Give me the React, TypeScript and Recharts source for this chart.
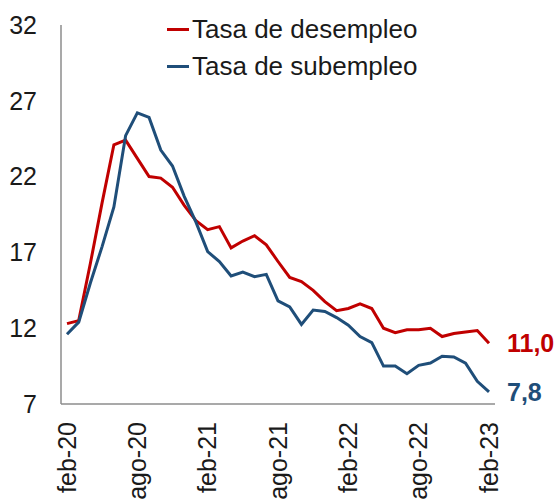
import { Line, LineChart, XAxis, YAxis } from 'recharts'

const months = [
  'feb-20', 'mar-20', 'abr-20', 'may-20', 'jun-20', 'jul-20', 'ago-20', 'sep-20', 'oct-20', 'nov-20', 'dic-20',
  'ene-21', 'feb-21', 'mar-21', 'abr-21', 'may-21', 'jun-21', 'jul-21', 'ago-21', 'sep-21', 'oct-21', 'nov-21', 'dic-21',
  'ene-22', 'feb-22', 'mar-22', 'abr-22', 'may-22', 'jun-22', 'jul-22', 'ago-22', 'sep-22', 'oct-22', 'nov-22', 'dic-22',
  'ene-23', 'feb-23',
]

const desempleo = [
  12.3, 12.5, 16.3, 20.3, 24.1, 24.4, 23.2, 22.0, 21.9, 21.3, 20.1, 19.1, 18.5, 18.7, 17.3, 17.75, 18.1, 17.5, 16.4,
  15.35, 15.07, 14.5, 13.75, 13.15, 13.3, 13.6, 13.3, 12.0, 11.7, 11.9, 11.9, 12.0, 11.45, 11.65, 11.75, 11.85, 11.0,
]

const subempleo = [
  11.6, 12.4, 15.0, 17.4, 20.0, 24.7, 26.2, 25.9, 23.75, 22.7, 20.7, 19.0, 17.05, 16.4, 15.45, 15.7, 15.4, 15.55, 13.8,
  13.4, 12.25, 13.2, 13.1, 12.7, 12.2, 11.45, 11.05, 9.5, 9.5, 9.0, 9.55, 9.7, 10.15, 10.1, 9.7, 8.5, 7.8,
]

const yTicks = [7, 12, 17, 22, 27, 32]

const RED = '#c00000'
const BLUE = '#1f4e79'
const FONT = '"Liberation Sans", Arial, sans-serif'

const data = months.map((m, i) => ({ mes: m, desempleo: desempleo[i], subempleo: subempleo[i] }))

const series = [
  { key: 'desempleo', name: 'Tasa de desempleo', color: RED },
  { key: 'subempleo', name: 'Tasa de subempleo', color: BLUE },
]

function MonthTick({ x, y, payload }: { x?: number; y?: number; payload?: { value: string } }) {
  const ty = (y ?? 0) + 16
  return (
    <text
      x={x}
      y={ty}
      transform={`rotate(-90, ${x}, ${ty})`}
      textAnchor="end"
      dy="0.35em"
      fill="#1a1a1a"
      fontSize={25}
      fontFamily={FONT}
    >
      {payload?.value}
    </text>
  )
}

// legend sits over the plot, top middle, like the excel original
function LegendBox() {
  return (
    <div
      style={{
        position: 'absolute',
        top: 11,
        left: 167,
        fontFamily: FONT,
        fontSize: 26,
        color: '#1a1a1a',
        lineHeight: '37px',
      }}
    >
      {series.map((s) => (
        <div key={s.key} style={{ display: 'flex', alignItems: 'center', whiteSpace: 'nowrap' }}>
          <span style={{ display: 'inline-block', width: 22, height: 3, background: s.color, marginRight: 3 }} />
          {s.name}
        </div>
      ))}
    </div>
  )
}

function endLabel(color: string) {
  return (props: any) => {
    const { x, y, index, value } = props
    if (index !== data.length - 1) return <g key={`l-${index}`} />
    return (
      <text
        key={`l-${index}`}
        x={x + 18}
        y={y}
        dy="0.35em"
        fill={color}
        fontSize={25}
        fontWeight="bold"
        fontFamily={FONT}
      >
        {Number(value).toFixed(1).replace('.', ',')}
      </text>
    )
  }
}

export default function App() {
  return (
    <div style={{ position: 'absolute', left: 0, top: 0, width: 556, height: 501, background: '#fff' }}>
      <LineChart width={556} height={501} data={data} margin={{ top: 25, right: 61, left: 0, bottom: 0 }}>
        <XAxis
          dataKey="mes"
          interval={5}
          height={97}
          padding={{ left: 6, right: 6 }}
          tickLine={false}
          tickSize={0}
          tick={<MonthTick />}
          axisLine={{ stroke: '#8c8c8c', strokeWidth: 1.5 }}
        />
        <YAxis
          domain={[7, 32]}
          ticks={yTicks}
          width={61}
          tickLine={false}
          tickSize={0}
          tickMargin={24}
          axisLine={{ stroke: '#8c8c8c', strokeWidth: 1.5 }}
          tick={{ fill: '#1a1a1a', fontSize: 25, fontFamily: FONT }}
        />
        {series.map((s) => (
          <Line
            key={s.key}
            dataKey={s.key}
            name={s.name}
            type="linear"
            stroke={s.color}
            strokeWidth={3}
            dot={false}
            activeDot={false}
            isAnimationActive={false}
            label={endLabel(s.color)}
          />
        ))}
      </LineChart>
      <LegendBox />
    </div>
  )
}
